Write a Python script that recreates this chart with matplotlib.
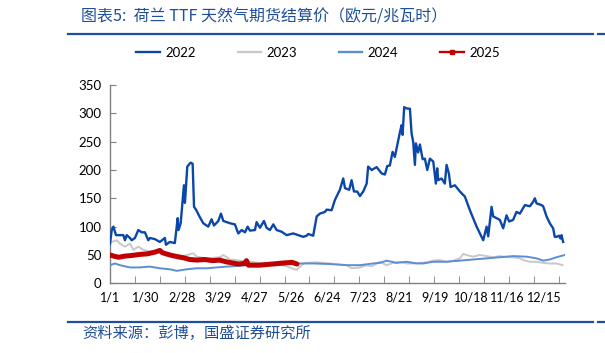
import matplotlib
matplotlib.use("Agg")
import matplotlib.pyplot as plt
from matplotlib.lines import Line2D

plt.rcParams['font.family'] = ['Lato', 'Noto Sans CJK SC', 'DejaVu Sans']

# --- data (day of year, value in EUR/MWh) ---
DAYS_2022 = [0, 1.4, 2.7, 4.8, 5.9, 8, 10.7, 12, 13.4, 16, 17.4, 20, 22.7, 25.4, 28, 30.7,
             32, 36, 40, 44, 44.9, 48, 52, 53.5, 54.3, 55, 56.7, 59.3, 60.1, 61, 62, 64.7,
             66.3, 67.4, 69, 72, 74.8, 78.8, 81.5, 83.4, 86.9, 89, 90.9, 96.2, 100.2, 102.9,
             105.6, 108.3, 110.4, 112.3, 116.3, 117.6, 120.3, 123.5, 125.6, 128.3, 131, 133.7,
             137.7, 141.7, 147, 151, 155, 157.7, 159, 163, 165.8, 168.4, 172.4, 173.8, 177.8,
             180.4, 184.4, 187.1, 188.5, 191.9, 193.8, 195.7, 198.3, 200.5, 203.1, 205.9,
             207.1, 209.9, 213.9, 217.9, 220.5, 222.4, 224.5, 226.7, 228.5, 232.6, 233.9,
             234.7, 236, 237.4, 240.6, 241.9, 243.2, 244.6, 245.4, 247.2, 248.6, 250.8, 252.6,
             254.5, 256.6, 259.3, 261.4, 262.5, 263.3, 266, 268.6, 270, 271.9, 273.2, 276.7,
             280.7, 284.7, 288.7, 294.1, 299.4, 302.1, 303.4, 306.1, 307.4, 310.1, 312.7,
             315.4, 318.1, 320.2, 323.4, 326.1, 328.8, 332.8, 336.8, 339.5, 340.8, 342.2,
             346.2, 347.5, 350.2, 352.8, 355.5, 356.8, 358.2, 360.3, 361.4, 362.2, 363.5]
VALS_2022 = [70, 94, 100, 85, 85, 85, 85, 76, 85, 80, 76, 80, 94, 90, 90, 76,
             80, 78, 73, 80, 68, 73, 71, 100, 115, 94, 106, 173, 142, 173, 206, 213,
             211, 135, 130, 117, 106, 100, 113, 102, 110, 123, 110, 106, 104, 88,
             94, 90, 100, 93, 94, 108, 98, 110, 98, 94, 104, 94,
             91, 85, 88, 85, 82, 84, 87, 84, 118, 123, 126, 130, 129,
             147, 165, 185, 168, 165, 182, 162, 162, 154, 162, 176,
             206, 200, 205, 194, 192, 207, 208, 232, 223, 267, 279,
             262, 311, 309, 308, 265, 250, 209, 247, 231, 245, 219, 220,
             200, 220, 215, 176, 203, 182, 185, 176, 209, 193, 170, 173,
             162, 153, 129, 100, 76, 100, 83, 135, 118, 115, 112,
             97, 120, 109, 112, 126, 123, 138, 136, 144, 150, 141,
             138, 136, 118, 106, 97, 82, 82, 84, 79, 85, 73]

DAYS_2023 = [0, 5.4, 8, 12, 16, 18.7, 22.7, 26.7, 32, 37.5, 42.7, 50.8, 58.8, 66.8, 69.5,
             77.5, 88.2, 90.9, 96.2, 104.2, 112.3, 122.9, 131, 137.7, 141.7, 145.7, 149.7,
             151, 153.7, 156.4, 165.8, 176.4, 189.8, 193.8, 200.5, 205.9, 209.9, 213.9,
             216.5, 221.9, 227.2, 232.6, 237.9, 243.2, 248.6, 254, 259.3, 264.6, 270, 275.3,
             280.7, 283.3, 286, 291.3, 296.7, 302.1, 307.4, 312.7, 318.1, 323.4, 328.8,
             332.8, 336.8, 342.2, 347.5, 352.8, 358.2, 363]
VALS_2023 = [72, 76, 70, 64.6, 70, 59, 64.6, 59, 56, 56, 52, 50, 48, 53, 47,
             44, 46, 50, 42, 40, 38, 35, 36, 32, 30, 26.5, 23.5,
             26.5, 32, 36, 37, 35, 32, 26.5, 28, 32, 30, 35,
             38, 32, 36, 38, 35, 35, 36, 37, 40, 41, 38, 40,
             44, 52, 50, 47, 50, 48, 46, 48, 46, 46, 44,
             40, 38, 38, 36, 35, 35, 32]

DAYS_2024 = [0, 4, 8, 16, 24, 32, 40, 48, 53.5, 61.5, 69.5, 77.5, 85.6, 93.6, 101.6,
             109.6, 117.6, 125.7, 133.7, 141.7, 152.4, 163, 176.4, 189.8, 200.5, 211.1,
             216.5, 221.9, 229.9, 237.9, 246, 251.2, 259.3, 270, 280.7, 291.3, 302.1,
             312.7, 323.4, 334.2, 342.2, 347.5, 352.8, 358.2, 364.9]
VALS_2024 = [32, 35, 32, 28, 28, 29.5, 26.5, 24.7, 22, 24.7, 26.5, 26.5, 28, 29.5, 30.5,
             32, 30.5, 32, 32, 34, 35, 35, 34, 32, 32, 35,
             36, 40, 36, 38, 35, 35, 38, 38, 40, 42, 44,
             46, 48, 47, 44, 40, 42, 46, 50]

DAYS_2025 = [0, 3, 7, 12, 17, 24, 30, 36, 40, 42, 48, 54, 59, 64, 70, 76, 82, 88, 93,
             98, 103, 108, 109.5, 111, 120, 130, 140, 146, 150]
VALS_2025 = [50, 48, 46, 48, 49, 51, 52, 55, 58, 54, 50, 47, 45, 42, 41, 42, 40, 41, 38,
             36, 34, 35, 40, 32, 32, 34, 36, 37, 34]

TICK_DAYS = list(range(0, 349, 29))
TICK_LABELS = ['1/1', '1/30', '2/28', '3/29', '4/27', '5/26', '6/24', '7/23', '8/21',
               '9/19', '10/18', '11/16', '12/15']

C2022 = '#0B47A8'
C2023 = '#C8C8C8'
C2024 = '#5B8ED3'
C2025 = '#C00000'
NAVY = '#1F4E9A'

fig = plt.figure(figsize=(6.05, 3.53), dpi=100)
ax = fig.add_axes([110 / 605, 1 - 283.3 / 353, 455 / 605, 198.3 / 353])

ax.plot(DAYS_2023, VALS_2023, color=C2023, lw=1.4, zorder=2)
ax.plot(DAYS_2024, VALS_2024, color=C2024, lw=1.4, zorder=3)
ax.plot(DAYS_2022, VALS_2022, color=C2022, lw=1.7, zorder=4)
ax.plot(DAYS_2025, VALS_2025, color=C2025, lw=3.6, zorder=5,
        solid_capstyle='round', solid_joinstyle='round')

ax.set_xlim(0, 365)
ax.set_ylim(0, 350)
ax.set_yticks(range(0, 351, 50))

# labels every 29 days, tick marks every 20 days
ax.set_xticks(TICK_DAYS)
ax.set_xticklabels(TICK_LABELS)
ax.tick_params(axis='x', which='major', length=0, pad=6, labelsize=9, colors='black')
ax.set_xticks(range(0, 365, 20), minor=True)
ax.tick_params(axis='x', which='minor', length=5, direction='in', color='#808080')
ax.tick_params(axis='y', length=4, direction='in', color='#808080', labelsize=9.5, pad=6)

for s in ['top', 'right']:
    ax.spines[s].set_visible(False)
for s in ['left', 'bottom']:
    ax.spines[s].set_color('#808080')
    ax.spines[s].set_linewidth(1)

# legend
handles = [Line2D([], [], color=C2022, lw=1.7),
           Line2D([], [], color=C2023, lw=1.7),
           Line2D([], [], color=C2024, lw=1.7),
           Line2D([], [], color=C2025, lw=1.7, marker='s', markersize=3)]
fig.legend(handles, ['2022', '2023', '2024', '2025'], ncol=4, frameon=False,
           loc='center', bbox_to_anchor=(318 / 605, 1 - 53 / 353), fontsize=9.5,
           handlelength=1.8, handletextpad=0.4, columnspacing=3.15)

# title, rules and source
fig.text(81 / 605, 1 - 17 / 353, '图表5:  荷兰 TTF 天然气期货结算价（欧元/兆瓦时）',
         color=NAVY, fontsize=11.5, va='center', ha='left',
         family=['Noto Sans CJK SC', 'DejaVu Sans'])
fig.add_artist(Line2D([68 / 605, 593 / 605], [1 - 34.3 / 353] * 2, color=NAVY, lw=1.6))
fig.add_artist(Line2D([598 / 605, 605 / 605], [1 - 34.3 / 353] * 2, color=NAVY, lw=1.6))
fig.add_artist(Line2D([68 / 605, 593 / 605], [1 - 321.7 / 353] * 2, color=NAVY, lw=1.6))
fig.add_artist(Line2D([598 / 605, 605 / 605], [1 - 321.7 / 353] * 2, color=NAVY, lw=1.6))
fig.text(82 / 605, 1 - 333 / 353, '资料来源：彭博，国盛证券研究所', color=NAVY, fontsize=11,
         va='center', ha='left', family=['Noto Sans CJK SC', 'DejaVu Sans'])

fig.savefig('out.png', dpi=100)
